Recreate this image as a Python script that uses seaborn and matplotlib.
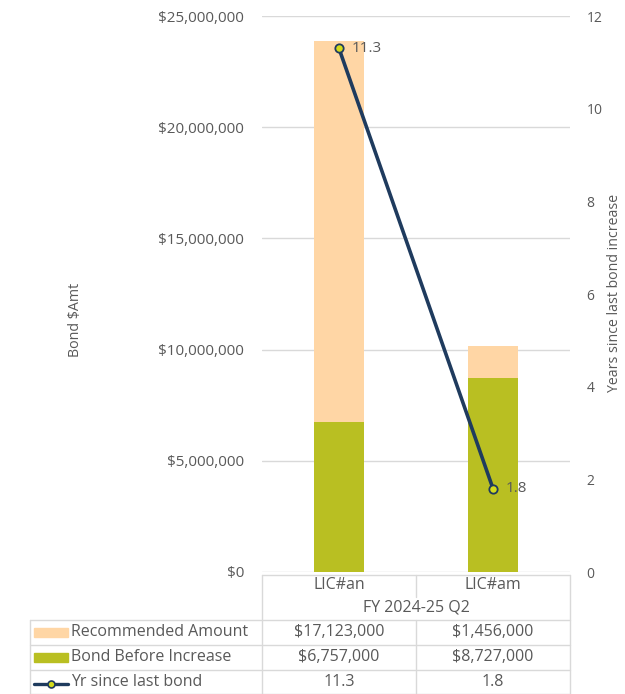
import matplotlib
matplotlib.use("Agg")
import matplotlib.pyplot as plt
import seaborn as sns
import numpy as np
from matplotlib.lines import Line2D
from matplotlib.patches import Rectangle

categories = ["LIC#an", "LIC#am"]
group_label = "FY 2024-25 Q2"
recommended = [17123000, 1456000]
bond_before = [6757000, 8727000]
years_since = [11.3, 1.8]
series_names = ["Recommended Amount", "Bond Before Increase", "Yr since last bond"]

PEACH = "#FFD6A5"
OLIVE = "#B9BF22"
NAVY = "#1F3B5E"
MARK = "#D4DC1C"
TXT = "#595959"
GRID = "#D9D9D9"

sns.set_theme(style="white")
plt.rcParams["font.family"] = ["Open Sans", "DejaVu Sans"]

W, H = 625, 694
fig = plt.figure(figsize=(W / 100, H / 100), dpi=100)

def fx(px):
    return px / W

def fy(py):
    return 1 - py / H

left, right, top, bottom = 262, 570, 16, 572
ax = fig.add_axes([fx(left), fy(bottom), fx(right) - fx(left), fy(top) - fy(bottom)])

totals = [r + b for r, b in zip(recommended, bond_before)]
sns.barplot(x=categories, y=totals, color=PEACH, saturation=1, width=0.32, ax=ax,
            linewidth=0, edgecolor="none", zorder=2)
sns.barplot(x=categories, y=bond_before, color=OLIVE, saturation=1, width=0.32, ax=ax,
            linewidth=0, edgecolor="none", zorder=3)
ax.set_xlim(-0.5, 1.5)
ax.set_ylim(0, 25000000)
ax.set_yticks(np.arange(0, 25000001, 5000000))
ax.set_yticklabels([f"${v:,.0f}" for v in np.arange(0, 25000001, 5000000)], color=TXT, fontsize=11)
ax.set_xticks([])
ax.set_xlabel("")
ax.set_ylabel("")
ax.yaxis.grid(True, color=GRID, linewidth=1, zorder=0)
ax.set_axisbelow(True)
for s in ax.spines.values():
    s.set_visible(False)
ax.tick_params(axis="y", length=0, pad=13)

ax2 = ax.twinx()
xpos = np.arange(len(categories))
sns.lineplot(x=xpos, y=years_since, ax=ax2, color=NAVY, linewidth=2.6, sort=False,
             marker="o", markersize=6, markerfacecolor=MARK, markeredgecolor=NAVY,
             markeredgewidth=1.3, zorder=5)
ax2.set_ylim(0, 12)
ax2.set_yticks(np.arange(0, 13, 2))
ax2.set_yticklabels([str(v) for v in range(0, 13, 2)], color=TXT, fontsize=10)
ax2.tick_params(axis="y", length=0, pad=12)
ax2.set_xlim(-0.5, 1.5)
ax2.set_ylabel("")
for s in ax2.spines.values():
    s.set_visible(False)
for x, y in zip(xpos, years_since):
    ax2.annotate(f"{y}", (x, y), xytext=(9, 0), textcoords="offset points",
                 va="center", ha="left", color=TXT, fontsize=11)

fig.text(fx(75), fy(320), "Bond $Amt", rotation=90, ha="center", va="center", color=TXT, fontsize=10.3)
fig.text(fx(615), fy(293), "Years since last bond increase", rotation=90, ha="center", va="center",
         color=TXT, fontsize=10.2)

# data table
def hline(x0, x1, y):
    fig.add_artist(Line2D([fx(x0), fx(x1)], [fy(y), fy(y)], color=GRID, linewidth=1))

def vline(x, y0, y1):
    fig.add_artist(Line2D([fx(x), fx(x)], [fy(y0), fy(y1)], color=GRID, linewidth=1))

colx = [262, 416, 570]
hline(262, 570, 575)
vline(262, 575, 694)
vline(570, 575, 694)
vline(416, 575, 597)
vline(416, 620, 694)
for yy in [620, 645, 670]:
    hline(30, 570, yy)
hline(30, 570, 693.5)
vline(30, 620, 694)

for i, c in enumerate(categories):
    fig.text(fx((colx[i] + colx[i + 1]) / 2), fy(585), c, ha="center", va="center", color=TXT, fontsize=11.5)
fig.text(fx(416), fy(607), group_label, ha="center", va="center", color=TXT, fontsize=11.5)

rows = [
    [f"${v:,.0f}" for v in recommended],
    [f"${v:,.0f}" for v in bond_before],
    [f"{v}" for v in years_since],
]
row_y = [632, 657, 682]
for r, (vals, yy) in enumerate(zip(rows, row_y)):
    fig.text(fx(71), fy(yy), series_names[r], ha="left", va="center", color=TXT, fontsize=11.5)
    for i, v in enumerate(vals):
        fig.text(fx((colx[i] + colx[i + 1]) / 2), fy(yy), v, ha="center", va="center", color=TXT, fontsize=11.5)

# legend keys
fig.add_artist(Rectangle((fx(34), fy(637)), fx(68) - fx(34), fy(628) - fy(637), color=PEACH, transform=fig.transFigure))
fig.add_artist(Rectangle((fx(34), fy(662)), fx(68) - fx(34), fy(653) - fy(662), color=OLIVE, transform=fig.transFigure))
fig.add_artist(Line2D([fx(34), fx(68)], [fy(684), fy(684)], color=NAVY, linewidth=2.4))
fig.add_artist(Line2D([fx(51)], [fy(684)], marker="o", markersize=5, markerfacecolor=MARK,
                      markeredgecolor=NAVY, markeredgewidth=1.2, linestyle="none"))

fig.savefig("out.png", dpi=100)
